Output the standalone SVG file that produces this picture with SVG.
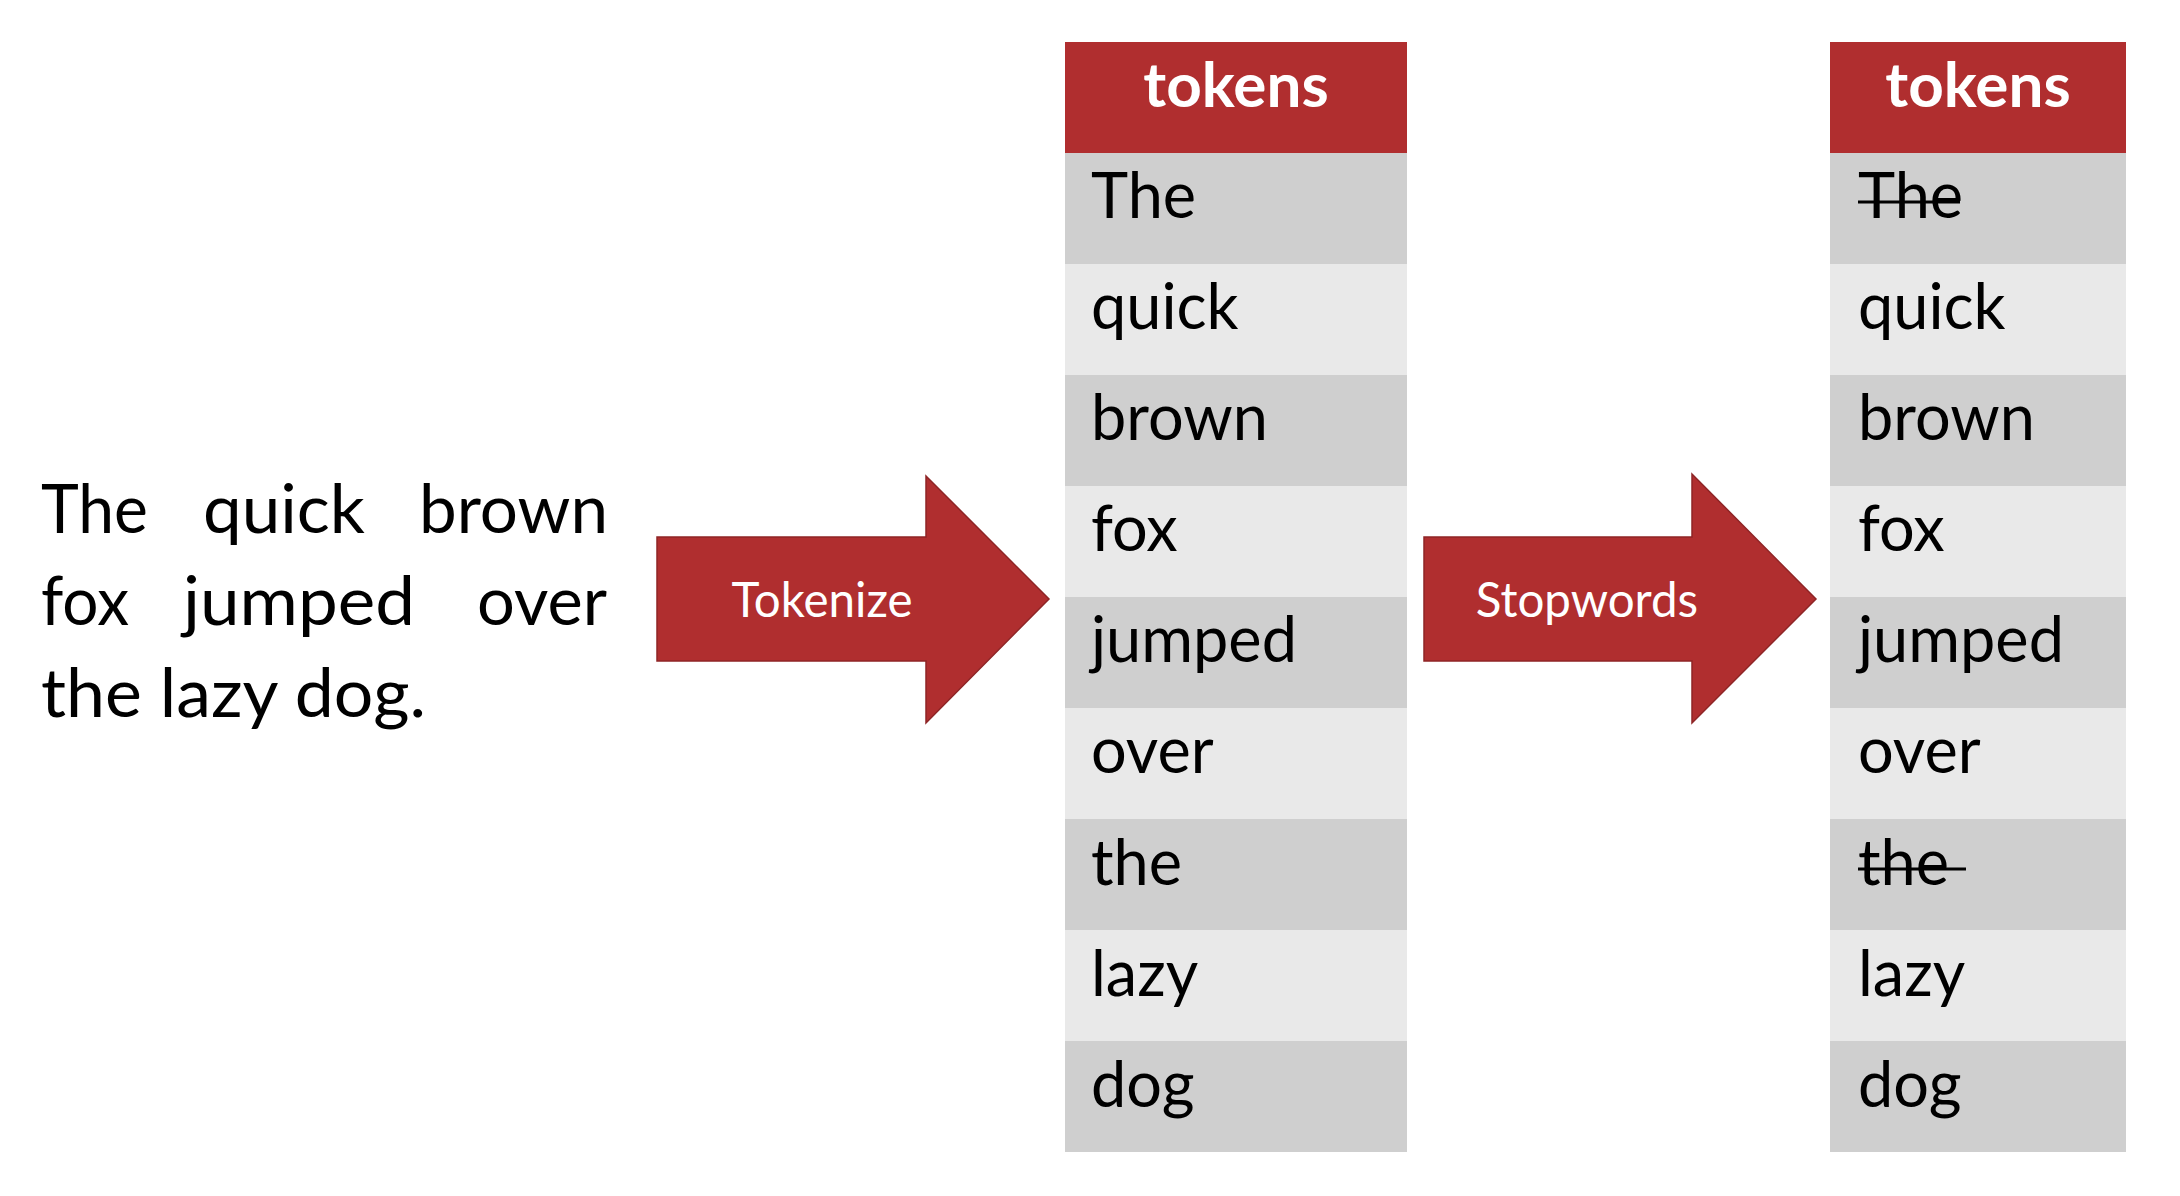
<svg xmlns="http://www.w3.org/2000/svg" width="2180" height="1196" viewBox="0 0 2180 1196">
<style>
.hdr{fill:#b02e2f}
.dk{fill:#cfcfcf}
.lt{fill:#e9e9e9}
.ht{font-family:Lato,"Liberation Sans",sans-serif;font-weight:bold;font-size:62px;fill:#ffffff;text-anchor:middle}
.tk{font-family:Lato,"Liberation Sans",sans-serif;font-size:63px;fill:#000000}
.para{font-family:Lato,"Liberation Sans",sans-serif;font-size:67px;fill:#000000}
.arr{fill:#b02e2f;stroke:#8e2526;stroke-width:1.5}
.al{font-family:Lato,"Liberation Sans",sans-serif;font-size:47.5px;fill:#ffffff;text-anchor:middle}
.strike{stroke:#000000;stroke-width:3}
</style>
<rect width="2180" height="1196" fill="#ffffff"/>
<g id="sentence">
<text class="para" x="41" y="533" textLength="107" lengthAdjust="spacingAndGlyphs">The</text>
<text class="para" x="203" y="533" textLength="162" lengthAdjust="spacingAndGlyphs">quick</text>
<text class="para" x="419" y="533" textLength="189" lengthAdjust="spacingAndGlyphs">brown</text>
<text class="para" x="41" y="625" textLength="88" lengthAdjust="spacingAndGlyphs">fox</text>
<text class="para" x="183" y="625" textLength="232" lengthAdjust="spacingAndGlyphs">jumped</text>
<text class="para" x="477" y="625" textLength="130" lengthAdjust="spacingAndGlyphs">over</text>
<text class="para" x="41" y="717" textLength="385" lengthAdjust="spacingAndGlyphs">the lazy dog.</text>
</g>
<g id="connectors">
<g id="tokenize-arrow">
<path class="arr" d="M657,537 L926,537 L926,476 L1049,599 L926,723 L926,661 L657,661 Z"/>
<text class="al" x="822" y="617">Tokenize</text>
</g>
<g id="stopwords-arrow">
<path class="arr" d="M1424,537 L1692,537 L1692,474 L1816,599 L1692,723 L1692,661 L1424,661 Z"/>
<text class="al" x="1587" y="617">Stopwords</text>
</g>
</g>
<g id="tokens-table">
<rect class="hdr" x="1065" y="42" width="342" height="111"/>
<text class="ht" x="1236" y="107">tokens</text>
<rect class="dk" x="1065" y="153" width="342" height="111"/>
<rect class="lt" x="1065" y="264" width="342" height="111"/>
<rect class="dk" x="1065" y="375" width="342" height="111"/>
<rect class="lt" x="1065" y="486" width="342" height="111"/>
<rect class="dk" x="1065" y="597" width="342" height="111"/>
<rect class="lt" x="1065" y="708" width="342" height="111"/>
<rect class="dk" x="1065" y="819" width="342" height="111"/>
<rect class="lt" x="1065" y="930" width="342" height="111"/>
<rect class="dk" x="1065" y="1041" width="342" height="111"/>
<text class="tk" x="1091" y="218">The</text>
<text class="tk" x="1091" y="329">quick</text>
<text class="tk" x="1091" y="440">brown</text>
<text class="tk" x="1091" y="551">fox</text>
<text class="tk" x="1091" y="662">jumped</text>
<text class="tk" x="1091" y="773">over</text>
<text class="tk" x="1091" y="885">the</text>
<text class="tk" x="1091" y="996">lazy</text>
<text class="tk" x="1091" y="1107">dog</text>
</g>
<g id="filtered-table">
<rect class="hdr" x="1830" y="42" width="296" height="111"/>
<text class="ht" x="1978" y="107">tokens</text>
<rect class="dk" x="1830" y="153" width="296" height="111"/>
<rect class="lt" x="1830" y="264" width="296" height="111"/>
<rect class="dk" x="1830" y="375" width="296" height="111"/>
<rect class="lt" x="1830" y="486" width="296" height="111"/>
<rect class="dk" x="1830" y="597" width="296" height="111"/>
<rect class="lt" x="1830" y="708" width="296" height="111"/>
<rect class="dk" x="1830" y="819" width="296" height="111"/>
<rect class="lt" x="1830" y="930" width="296" height="111"/>
<rect class="dk" x="1830" y="1041" width="296" height="111"/>
<text class="tk" x="1858" y="218">The</text>
<text class="tk" x="1858" y="329">quick</text>
<text class="tk" x="1858" y="440">brown</text>
<text class="tk" x="1858" y="551">fox</text>
<text class="tk" x="1858" y="662">jumped</text>
<text class="tk" x="1858" y="773">over</text>
<text class="tk" x="1858" y="885">the</text>
<text class="tk" x="1858" y="996">lazy</text>
<text class="tk" x="1858" y="1107">dog</text>
<line class="strike" x1="1858" y1="202" x2="1960" y2="202"/>
<line class="strike" x1="1858" y1="869" x2="1966" y2="869"/>
</g>
</svg>
